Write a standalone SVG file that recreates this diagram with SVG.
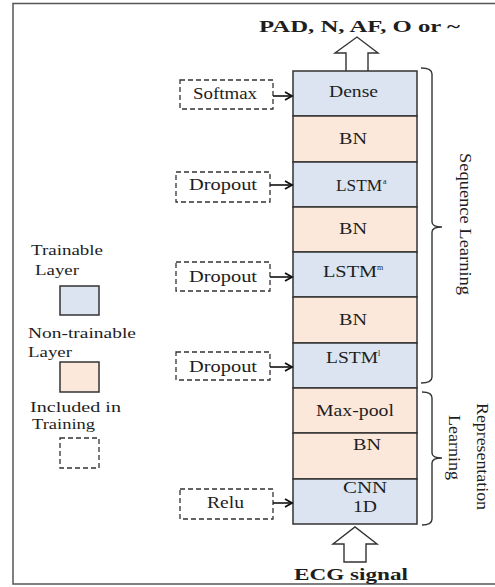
<svg xmlns="http://www.w3.org/2000/svg" width="495" height="587" viewBox="0 0 495 587">
<style>
text{font-family:"Liberation Serif","Times New Roman",serif;fill:#1e1e1e}
.t{font-size:16px}
.lg{font-size:15px}
.b{font-weight:bold;font-size:17px}
.sup{font-size:8px}
.tr{fill:#dbe4f0;stroke:#333;stroke-width:1.5}
.nt{fill:#fce8da;stroke:#333;stroke-width:1.5}
.dash{fill:#fff;stroke:#333;stroke-width:1.3;stroke-dasharray:5,3}
.con{fill:none;stroke:#111;stroke-width:1.6}
.hollow{fill:#fff;stroke:#333;stroke-width:1.4}
.brace{fill:none;stroke:#333;stroke-width:1.4}
</style>
<defs>
<marker id="ah" markerWidth="10" markerHeight="10" refX="8" refY="5" orient="auto" markerUnits="userSpaceOnUse">
<path d="M1,1 L8,5 L1,9" fill="none" stroke="#111" stroke-width="1.8"/>
</marker>
</defs>
<rect width="495" height="587" fill="#fff"/>
<g id="frame" fill="none" stroke="#555" stroke-width="1.5">
<path d="M495,3.5 L13,3.5 L13,584 L495,584"/>
</g>
<text class="b" x="259" y="32" textLength="201" lengthAdjust="spacingAndGlyphs">PAD, N, AF, O or ~</text>
<text class="b" x="294" y="580" textLength="114" lengthAdjust="spacingAndGlyphs">ECG signal</text>
<g id="out-arrow"><path class="hollow" d="M346,71 L346,53 L335,53 L357,37 L378,53 L368,53 L368,71"/></g>
<g id="in-arrow"><path class="hollow" d="M344,562 L344,544 L333,544 L355,527 L377,544 L366,544 L366,562 Z"/></g>
<g id="dense"><rect class="tr" x="293" y="71" width="124" height="45"/><text class="t" x="329" y="97" textLength="49" lengthAdjust="spacingAndGlyphs">Dense</text></g>
<g id="bn4"><rect class="nt" x="293" y="116" width="124" height="46"/><text class="t" x="339" y="144" textLength="28" lengthAdjust="spacingAndGlyphs">BN</text></g>
<g id="lstm-a"><rect class="tr" x="293" y="162" width="124" height="45"/><text class="t" x="336" y="191" textLength="46" lengthAdjust="spacingAndGlyphs">LSTM</text><text class="sup" x="383" y="184">a</text></g>
<g id="bn3"><rect class="nt" x="293" y="207" width="124" height="45"/><text class="t" x="339" y="234" textLength="28" lengthAdjust="spacingAndGlyphs">BN</text></g>
<g id="lstm-m"><rect class="tr" x="293" y="252" width="124" height="45"/><text class="t" x="323" y="277" textLength="54" lengthAdjust="spacingAndGlyphs">LSTM</text><text class="sup" x="377" y="270">m</text></g>
<g id="bn2"><rect class="nt" x="293" y="297" width="124" height="46"/><text class="t" x="339" y="325" textLength="28" lengthAdjust="spacingAndGlyphs">BN</text></g>
<g id="lstm-l"><rect class="tr" x="293" y="343" width="124" height="45"/><text class="t" x="326" y="363" textLength="52" lengthAdjust="spacingAndGlyphs">LSTM</text><text class="sup" x="378" y="356">l</text></g>
<g id="maxpool"><rect class="nt" x="293" y="388" width="124" height="45"/><text class="t" x="316" y="416" textLength="78" lengthAdjust="spacingAndGlyphs">Max-pool</text></g>
<g id="bn1"><rect class="nt" x="293" y="433" width="124" height="46"/><text class="t" x="353" y="450" textLength="28" lengthAdjust="spacingAndGlyphs">BN</text></g>
<g id="cnn"><rect class="tr" x="293" y="479" width="124" height="45"/><text class="t" x="343" y="493" textLength="44" lengthAdjust="spacingAndGlyphs">CNN</text><text class="t" x="353" y="512" textLength="24" lengthAdjust="spacingAndGlyphs">1D</text></g>
<g id="softmax"><rect class="dash" x="180" y="80" width="93" height="29"/><text class="t" x="193" y="99" textLength="64" lengthAdjust="spacingAndGlyphs">Softmax</text></g>
<g id="dropout-a"><rect class="dash" x="176" y="172" width="94" height="30"/><text class="t" x="189" y="190" textLength="68" lengthAdjust="spacingAndGlyphs">Dropout</text></g>
<g id="dropout-m"><rect class="dash" x="176" y="262" width="94" height="29"/><text class="t" x="189" y="282" textLength="68" lengthAdjust="spacingAndGlyphs">Dropout</text></g>
<g id="dropout-l"><rect class="dash" x="176" y="352" width="94" height="28"/><text class="t" x="189" y="372" textLength="68" lengthAdjust="spacingAndGlyphs">Dropout</text></g>
<g id="relu"><rect class="dash" x="180" y="489" width="93" height="30"/><text class="t" x="207" y="508" textLength="37" lengthAdjust="spacingAndGlyphs">Relu</text></g>
<g id="connectors">
<line class="con" x1="273" y1="96" x2="292" y2="96" marker-end="url(#ah)"/>
<line class="con" x1="270" y1="185" x2="292" y2="185" marker-end="url(#ah)"/>
<line class="con" x1="270" y1="277" x2="292" y2="277" marker-end="url(#ah)"/>
<line class="con" x1="270" y1="367" x2="292" y2="367" marker-end="url(#ah)"/>
<line class="con" x1="273" y1="503" x2="292" y2="503" marker-end="url(#ah)"/>
</g>
<g id="seq-brace">
<path class="brace" d="M421,68 Q432,68 432,74 L432,222 Q432,227 442,227 Q432,227 432,232 L432,377 Q432,383 421,383"/>
<text class="t" transform="translate(460,153) rotate(90)" textLength="142" lengthAdjust="spacingAndGlyphs">Sequence Learning</text>
</g>
<g id="rep-brace">
<path class="brace" d="M422,392 Q432,392 432,398 L432,453 Q432,458 442,458 Q432,458 432,463 L432,519 Q432,525 422,525"/>
<text class="t" transform="translate(477,403) rotate(90)" textLength="107" lengthAdjust="spacingAndGlyphs">Representation</text>
<text class="t" transform="translate(449,415) rotate(90)" textLength="65" lengthAdjust="spacingAndGlyphs">Learning</text>
</g>
<g id="legend-trainable"><text class="lg" x="31" y="255" textLength="72" lengthAdjust="spacingAndGlyphs">Trainable</text><text class="lg" x="35" y="275" textLength="44" lengthAdjust="spacingAndGlyphs">Layer</text><rect class="tr" x="60" y="286" width="39" height="29"/></g>
<g id="legend-nontrainable"><text class="lg" x="28" y="338" textLength="108" lengthAdjust="spacingAndGlyphs">Non-trainable</text><text class="lg" x="28" y="357" textLength="44" lengthAdjust="spacingAndGlyphs">Layer</text><rect class="nt" x="60" y="362" width="39" height="30"/></g>
<g id="legend-included"><text class="lg" x="30" y="412" textLength="91" lengthAdjust="spacingAndGlyphs">Included  in</text><text class="lg" x="32" y="429" textLength="63" lengthAdjust="spacingAndGlyphs">Training</text><rect class="dash" x="60" y="438" width="39" height="30"/></g>
</svg>
